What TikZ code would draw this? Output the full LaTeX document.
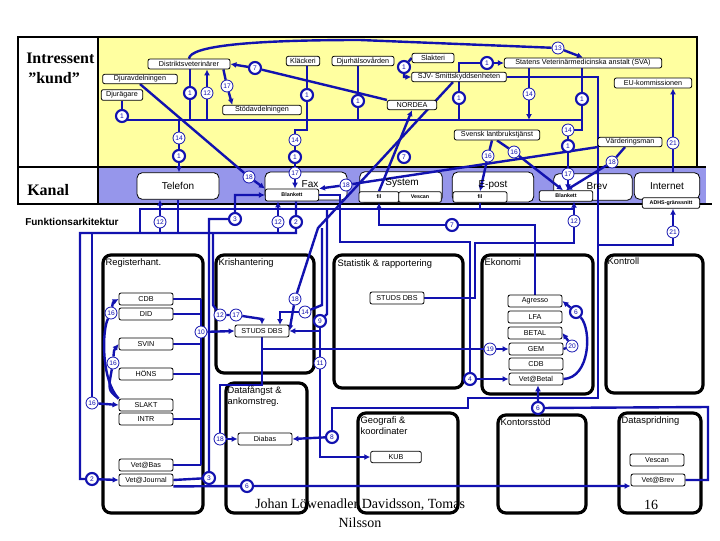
\documentclass[tikz,border=0pt]{standalone}
\usepackage{fontspec}
\setmainfont{Liberation Serif}
\setsansfont{Liberation Sans}
\usetikzlibrary{arrows.meta,calc}
\pgfdeclarelayer{back}
\pgfdeclarelayer{lines}
\pgfsetlayers{back,lines,main}
\definecolor{yel}{RGB}{255,255,160}
\definecolor{lav}{RGB}{150,150,235}
\definecolor{bl}{RGB}{18,18,175}
\begin{document}
\begin{tikzpicture}[x=0.75pt,y=-0.75pt,
 sb/.style={draw=black,fill=white,rounded corners=1.5pt,line width=0.6pt,inner sep=0pt,font=\sffamily\fontsize{5.4}{6}\selectfont},
 tb/.style={sb,font=\sffamily\bfseries\fontsize{4}{5}\selectfont},
 kb/.style={draw=black,fill=white,rounded corners=4pt,line width=0.6pt,inner sep=0pt},
 kt/.style={font=\sffamily\fontsize{7.5}{8}\selectfont,inner sep=0pt},
 bb/.style={draw=black,line width=2.4pt,rounded corners=6pt,inner sep=0pt},
 bt/.style={font=\sffamily\fontsize{7}{8.5}\selectfont,inner sep=0pt,anchor=north west,align=left},
 cn/.style={circle,draw=bl,fill=white,line width=0.6pt,inner sep=0pt,minimum size=9pt,text=bl,font=\sffamily\fontsize{5}{5}\selectfont},
 ck/.style={cn,line width=1.6pt},
 ln/.style={draw=bl,line width=1.8pt},
 ar/.style={ln,-{Latex[length=4.5pt,width=4.5pt]}},
 sw/.style={minimum width=40.5pt,minimum height=9pt}
]
\useasboundingbox (0,0) rectangle (720,540);
\begin{pgfonlayer}{back}
\fill[white] (0,0) rectangle (720,540);
\fill[yel] (98,37) rectangle (697,167);
\fill[lav] (98,167) rectangle (706,204);
\draw[line width=2.2pt] (697,167) -- (697,37) -- (18,37) -- (18,204) -- (712,204);
\draw[line width=2.2pt] (98,37) -- (98,204) (18,167) -- (706,167);
% channel boxes
\node[kb,minimum width=61.5pt,minimum height=20pt] (telefon) at (178,186) {};
\node[kb,minimum width=61.5pt,minimum height=21pt] (fax) at (306,186) {};
\node[kb,minimum width=62pt,minimum height=23pt] (system) at (401,187) {};
\node[kb,minimum width=61pt,minimum height=22.5pt] (epost) at (493,187) {};
\node[kb,minimum width=59pt,minimum height=20pt] (brev) at (593,187) {};
\node[kb,minimum width=49pt,minimum height=20pt] (internet) at (667,186) {};
% function boxes
\node[bb,minimum width=75pt,minimum height=193.5pt] (reg) at (153,384) {};
\node[bb,minimum width=73.5pt,minimum height=88.5pt] (kris) at (265,314) {};
\node[bb,minimum width=60.75pt,minimum height=97.5pt] (dataf) at (266.5,448) {};
\node[bb,minimum width=96.75pt,minimum height=99.75pt] (stat) at (398.5,321.5) {};
\node[bb,minimum width=83.25pt,minimum height=104.25pt] (eko) at (537.5,324.5) {};
\node[bb,minimum width=72.75pt,minimum height=103.5pt] (kontroll) at (654.5,324) {};
\node[bb,minimum width=75pt,minimum height=75pt] (geo) at (408,463) {};
\node[bb,minimum width=66pt,minimum height=73.5pt] (kontor) at (542,464) {};
\node[bb,minimum width=61.5pt,minimum height=75pt] (datasp) at (660,463) {};
\end{pgfonlayer}

% left labels
\node[anchor=west,inner sep=0pt,font=\rmfamily\bfseries\fontsize{12}{13}\selectfont] (lIntr) at (26,58) {Intressent};
\node[anchor=west,inner sep=0pt,font=\rmfamily\bfseries\fontsize{12}{13}\selectfont] (lKund) at (28,78) {”kund”};
\node[anchor=west,inner sep=0pt,font=\rmfamily\bfseries\fontsize{12}{13}\selectfont] (lKanal) at (27,190) {Kanal};
\node[anchor=west,inner sep=0pt,font=\sffamily\bfseries\fontsize{7.5}{9}\selectfont] (lFunk) at (25,222) {Funktionsarkitektur};

% stakeholder boxes
\node[sb,minimum width=61.5pt,minimum height=7.5pt] (distrikt) at (189,64) {Distriktsveterinärer};
\node[sb,minimum width=56pt,minimum height=7pt] (djuravd) at (140,79) {Djuravdelningen};
\node[sb,minimum width=31pt,minimum height=8pt] (djurag) at (122,95) {Djurägare};
\node[sb,minimum width=59pt,minimum height=7pt] (stod) at (262,110) {Stödavdelningen};
\node[sb,minimum width=25pt,minimum height=7pt] (klack) at (303,61) {Kläckeri};
\node[sb,minimum width=46.5pt,minimum height=7pt] (djurh) at (363,61) {Djurhälsovården};
\node[sb,minimum width=31.5pt,minimum height=7pt] (slakt) at (433,58) {Slakteri};
\node[sb,minimum width=71pt,minimum height=7pt] (sjv) at (459,77) {SJV- Smittskyddsenheten};
\node[sb,minimum width=118pt,minimum height=7.5pt] (sva) at (583,63) {Statens Veterinärmedicinska anstalt (SVA)};
\node[sb,minimum width=58pt,minimum height=7.5pt] (eu) at (653,83) {EU-kommissionen};
\node[sb,minimum width=37pt,minimum height=7pt] (nordea) at (412,105) {NORDEA};
\node[sb,minimum width=64pt,minimum height=7.5pt] (svensk) at (497,135) {Svensk lantbrukstjänst};
\node[sb,minimum width=48pt,minimum height=7pt] (vard) at (630,142) {Värderingsman};

% channel texts and inner boxes
\node[kt] (telefont) at (178,186) {Telefon};
\node[kt] (faxt) at (310,184) {Fax};
\node[kt] (systemt) at (402,183) {System};
\node[kt] (epostt) at (493,185) {E-post};
\node[kt] (brevt) at (597,186) {Brev};
\node[kt] (internett) at (667,186) {Internet};
\node[tb,minimum width=40pt,minimum height=9pt] (blank1) at (292,195) {Blankett};
\node[tb,minimum width=30pt,minimum height=8pt] (sfil) at (379,197) {fil};
\node[tb,minimum width=32pt,minimum height=8pt] (svescan) at (420,197) {Vescan};
\node[tb,minimum width=40.5pt,minimum height=8pt] (efil) at (480,197) {fil};
\node[tb,minimum width=40pt,minimum height=8pt] (blank2) at (566,196) {Blankett};
\node[tb,minimum width=43pt,minimum height=8pt] (adhs) at (671,203) {ADHS-gränssnitt};

% function box titles
\node[bt] (tReg) at ($(reg.north west)+(4,5)$) {Registerhant.};
\node[bt] (tKris) at ($(kris.north west)+(4,5)$) {Krishantering};
\node[bt] (tDataf) at ($(dataf.north west)+(3,4)$) {Datafångst \&\\ankomstreg.};
\node[bt] (tStat) at ($(stat.north west)+(5,6)$) {Statistik \& rapportering};
\node[bt] (tEko) at ($(eko.north west)+(4,5)$) {Ekonomi};
\node[bt] (tKontroll) at ($(kontroll.north west)+(3,4)$) {Kontroll};
\node[bt] (tGeo) at ($(geo.north west)+(4,5)$) {Geografi \&\\koordinater};
\node[bt] (tKontor) at ($(kontor.north west)+(4,5)$) {Kontorsstöd};
\node[bt] (tDatasp) at ($(datasp.north west)+(4,5)$) {Dataspridning};

% inner system boxes
\node[sb,sw] (cdb) at (146,299) {CDB};
\node[sb,sw] (did) at (146,314) {DID};
\node[sb,sw] (svin) at (146,344) {SVIN};
\node[sb,sw] (hons) at (146,374) {HÖNS};
\node[sb,sw] (slaktr) at (146,405) {SLAKT};
\node[sb,sw] (intr) at (146,419) {INTR};
\node[sb,sw] (vetbas) at (146,465) {Vet@Bas};
\node[sb,sw] (vetjour) at (146,480) {Vet@Journal};
\node[sb,sw] (studs1) at (262,331) {STUDS DBS};
\node[sb,sw] (studs2) at (397,298) {STUDS DBS};
\node[sb,sw] (agresso) at (535,301) {Agresso};
\node[sb,sw] (lfa) at (535,317) {LFA};
\node[sb,sw] (betal) at (535,333) {BETAL};
\node[sb,sw] (gem) at (536,349) {GEM};
\node[sb,sw] (cdb2) at (536,364) {CDB};
\node[sb,sw] (vetbetal) at (536,379) {Vet@Betal};
\node[sb,sw] (diabas) at (265,439) {Diabas};
\node[sb,minimum width=38pt,minimum height=8.5pt] (kub) at (396,457) {KUB};
\node[sb,sw] (vescan2) at (657,460) {Vescan};
\node[sb,sw] (vetbrev) at (658,480) {Vet@Brev};

% footer
\node[anchor=west,inner sep=0pt,font=\rmfamily\fontsize{10.5}{12}\selectfont] (auth1) at (255,505) {Johan Löwenadler Davidsson, Tomas};
\node[inner sep=0pt,font=\rmfamily\fontsize{10.5}{12}\selectfont] (auth2) at (360,523) {Nilsson};
\node[inner sep=0pt,font=\rmfamily\fontsize{10.5}{12}\selectfont] (pg) at (651,505) {16};

% numbered circles
\node[cn] (c13) at (558,48) {13};
\node[ck] (c7a) at (255,68) {7};
\node[ck] (c1a) at (190,93) {1};
\node[cn] (c12a) at (207,93) {12};
\node[cn] (c17a) at (227,86) {17};
\node[ck] (c1b) at (122,116) {1};
\node[ck] (c1c) at (307,95) {1};
\node[ck] (c1d) at (358,101) {1};
\node[ck] (c1e) at (404,67) {1};
\node[ck] (c1f) at (487,63) {1};
\node[ck] (c1g) at (459,98) {1};
\node[cn] (c14a) at (529,94) {14};
\node[ck] (c1h) at (582,99) {1};
\node[cn] (c14b) at (179,138) {14};
\node[ck] (c1i) at (179,156) {1};
\node[cn] (c14c) at (295,140) {14};
\node[ck] (c1j) at (295,157) {1};
\node[cn] (c14d) at (568,130) {14};
\node[ck] (c1k) at (568,146) {1};
\node[cn] (c21a) at (673,143) {21};
\node[cn] (c16a) at (488,156) {16};
\node[cn] (c16b) at (514,152) {16};
\node[cn] (c18a) at (612,162) {18};
\node[ck] (c7b) at (404,157) {7};
\node[cn] (c18b) at (249,177) {18};
\node[cn] (c17b) at (295,173) {17};
\node[cn] (c18c) at (346,185) {18};
\node[cn] (c17c) at (568,174) {17};
\node[cn] (c12b) at (160,222) {12};
\node[ck] (c3a) at (235,219) {3};
\node[cn] (c12c) at (278,222) {12};
\node[ck] (c2a) at (296,222) {2};
\node[ck] (c7c) at (452,225) {7};
\node[cn] (c12d) at (574,221) {12};
\node[cn] (c21b) at (673,232) {21};
\node[cn] (c16c) at (111,313) {16};
\node[cn] (c16d) at (113,363) {16};
\node[cn] (c16e) at (92,403) {16};
\node[ck] (c2b) at (92,479) {2};
\node[cn] (c10) at (201,332) {10};
\node[cn] (c12e) at (220,315) {12};
\node[cn] (c17d) at (236,315) {17};
\node[cn] (c18d) at (295,299) {18};
\node[cn] (c14e) at (305,312) {14};
\node[ck] (c9) at (320,321) {9};
\node[cn] (c11) at (320,363) {11};
\node[ck] (c4) at (470,379) {4};
\node[cn] (c19) at (490,349) {19};
\node[cn] (c20) at (572,346) {20};
\node[ck] (c6a) at (576,312) {6};
\node[cn] (c18e) at (220,439) {18};
\node[ck] (c8) at (332,437) {8};
\node[ck] (c3b) at (209,478) {3};
\node[ck] (c6b) at (247,486) {6};
\node[ck] (c6c) at (538,408) {6};

\coordinate (bus) at (350,120);
\coordinate (ya) at (0,209);
\coordinate (yb) at (0,233);
\coordinate (rb) at (201,0);

\begin{pgfonlayer}{lines}
% stakeholder level
\draw[ar] (distrikt.north) .. controls (190,46) and (250,40) .. (360,40) -- (c13) -- (sva.north);
\draw[ar] (nordea.north west) -- (c7a) -- (distrikt.east);
\draw[ln] (djurag.south) -- (c1b) -- (122,120) -- (582,120);
\draw[ln] (c1a |- distrikt.south) -- (c1a) -- (c1a |- bus);
\draw[ar] (c12a |- bus) -- (c12a) -- (c12a |- distrikt.south);
\draw[ar] ($(distrikt.south east)+(-7,0)$) -- (c17a) -- ($(stod.north west)+(10,0)$);
\draw[ln] (c1c |- klack.south) -- (c1c) -- (c1c |- bus) -- (307,130) -- (295,130) -- (c14c) -- (c1j) -- (c17b);
\draw[ar] (c17b) -- (c17b |- blank1.north);
\draw[ar] (c14b |- bus) -- (c14b) -- (c1i) -- (c1i |- telefon.north);
\draw[ln] (c1d |- djurh.south) -- (c1d) -- (c1d |- bus);
\draw[ar] (slakt.west) -- (c1e) |- (sjv.west);
\draw[ar] (c1g |- bus) -- (c1g) -- (c1g |- c1f) -- (c1f) -- (sva.west);
\draw[ar] (c14a |- sva.south) -- (c14a) -- (c14a |- bus);
\draw[ln] (c1h |- sva.south) -- (c1h) -- (582,120) -- (582,130) -- (c14d) -- (c1k) -- (c17c);
\draw[ar] (c17c) -- (c17c |- blank2.north);
\draw[ln] (sjv.east) -- (598,77) -- (598,398) -- (468,398) -- (468,408) -- (332,408) -- (c8);
\draw[ar] (c8) -- (diabas.east);
\draw[ar] (c21a |- internet.north) -- (c21a) -- (c21a |- eu.south);
\draw[ar] (598,245) -- (673,245) -- (c21b) -- (c21b |- adhs.south);
\draw[ar] ($(svensk.south)+(-5,0)$) -- (c16a) -- (efil.north);
\draw[ar] (svensk.south) -- (c16b) -- ($(blank2.north)+(-3,0)$);
\draw[ar] ($(vard.south)+(-5,0)$) -- (c18a) -- (blank2.north);
\draw[ar] (vard.south west) -- (c18c) -- (blank1.north east);
\draw[ar] (djuravd.south) -- (c18b) -- (blank1.north west);
\draw[ar] (sfil.north) -- (nordea.south);
\draw[ar] (agresso.north) -- (agresso.north |- c7c) -- (c7c) -- (sfil.south |- c7c) -- (sfil.south);
\draw[ar] ($(sjv.south)+(-6,0)$) -- (318,228) -- (c18d) -- (studs1.east);
% channel / function level
\draw[ar] (vetjour.east) -- (c3b) -- (c3b |- c3a) -- (c3a) |- (blank1.west);
\draw[ar] (c2a |- blank1.south) -- (c2a) -- (c2a |- yb) -- (80,233) -- (80,479) -- (c2b) -- (vetjour.west);
\draw[ar] (c12b |- yb) -- (c12b) -- (c12b |- telefon.south);
\draw[ar] (c12c |- yb) -- (c12c) -- (c12c |- blank1.south);
\draw[ln] (telefon.south) -- (telefon.south |- yb);
\draw[ar] (studs2.east) -- (475,298) -- (475,243) -- (574,243) -- (c12d) -- (c12d |- blank2.south);
\draw[ln] (efil.south) -- (efil.south |- ya) -- (140,209) -- (140,233) -- (92,233) -- (c16e);
\draw[ln] (efil.south |- ya) -- (c12d |- ya);
\draw[ar] (c16e) -- (slaktr.west);
\draw[ar] (slaktr.north west) .. controls (101,380) and (102,330) .. (c16c) .. controls (113,302) .. (cdb.west);
\draw[ar] (slaktr.north west) .. controls (108,390) .. (c16d) .. controls (114,350) .. (svin.west);
\foreach \b in {cdb,did,svin,hons,intr,vetbas} \draw[ln] (\b.east) -- (\b.east -| rb);
\draw[ln] (201,299) -- (201,465);
\draw[ar] (c10) -- (studs1.west);
\draw[ln] (213,233) -- (213,305) -- (c12e);
\draw[ar] (c12e) -- (c17d) -- (262,319) -- (studs1.north);
\draw[ln] (327,209) -- (327,314) -- (c9);
\draw[ar] (c9) |- (studs1.east);
\draw[ar] (c9) -- (c11) |- (kub.west);
\draw[ln] (322,228) -- (322,305) -- (c14e);
\draw[ar] (c14e) -- (280,312) -- (280,325);
\draw[ln] (studs1.south) -- (262,385) -- (220,385) -- (c18e);
\draw[ar] (c18e) -- (diabas.west);
\draw[ar] (262,349) -- (c19) -- (gem.west);
\draw[ar] (gem.east) -- (c20) -- (betal.east);
\draw[ar] (vetbetal.east) .. controls (590,378) and (592,330) .. (c6a) -- (agresso.east);
\draw[ar] (blank1.east) -- (340,195) -- (340,242) -- (470,242) -- (c4) -- (vetbetal.west);
\draw[ar] (vetjour.south east) -- (c6b) -- (c6b -| vetbrev.west);
\draw[ar] (vetbrev.east) -- (708,480) -- (708,407) -- (c6c) -- (c6c |- vetbetal.south);
\end{pgfonlayer}
\end{tikzpicture}
\end{document}
